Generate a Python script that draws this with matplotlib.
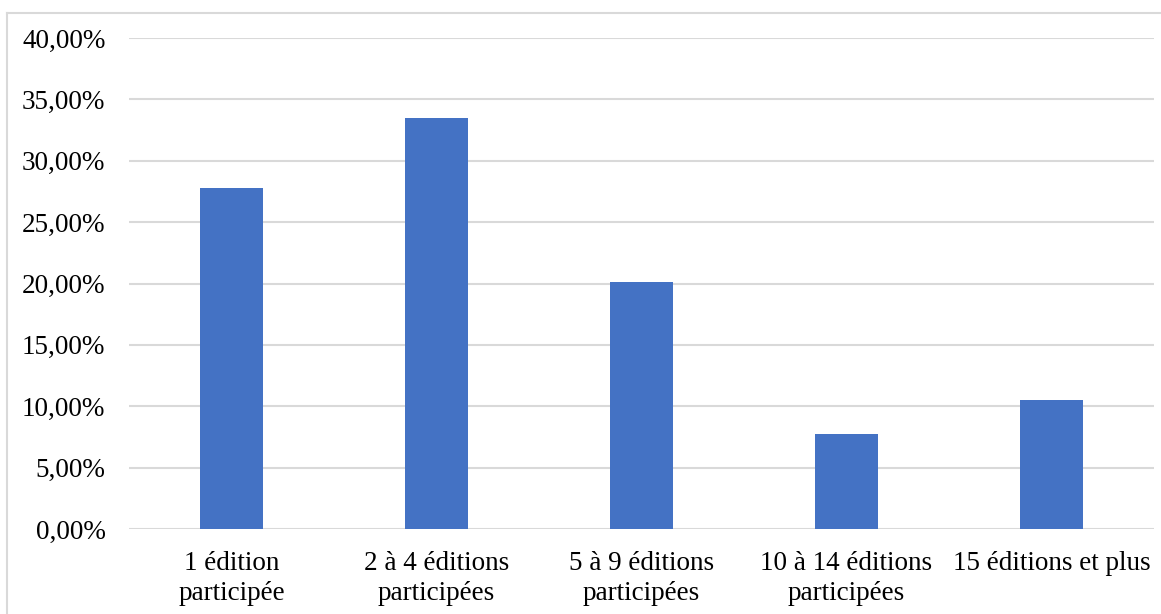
import matplotlib
matplotlib.use("Agg")
import matplotlib.pyplot as plt
from matplotlib.lines import Line2D

categories = ["1 édition\nparticipée", "2 à 4 éditions\nparticipées", "5 à 9 éditions\nparticipées",
              "10 à 14 éditions\nparticipées", "15 éditions et plus"]
values = [27.8, 33.5, 20.1, 7.75, 10.5]
yticks = [0, 5, 10, 15, 20, 25, 30, 35, 40]
ytick_labels = ["0,00%", "5,00%", "10,00%", "15,00%", "20,00%", "25,00%", "30,00%", "35,00%", "40,00%"]

plt.rcParams['font.family'] = ['Liberation Serif', 'DejaVu Serif']

W, H = 1161, 614
fig = plt.figure(figsize=(W/100, H/100), dpi=100)
ax = fig.add_axes([129/W, 1-529/H, (1154-129)/W, (529-38)/H])

x = list(range(len(categories)))
ax.bar(x, values, width=0.31, color="#4472C4", zorder=3)
ax.set_xlim(-0.5, len(categories)-0.5)
ax.set_ylim(0, 40)
ax.set_yticks(yticks)
ax.set_yticklabels(ytick_labels, fontsize=19.5)
ax.set_xticks(x)
ax.set_xticklabels(categories, fontsize=19.5, linespacing=1.27)
ax.tick_params(axis='both', length=0, colors='black')
ax.tick_params(axis='y', pad=17)
ax.tick_params(axis='x', pad=16)
ax.grid(axis='y', color='#D9D9D9', linewidth=1.5, zorder=0)
for s in ax.spines.values():
    s.set_visible(False)

# figure border (top and left visible)
fig.add_artist(Line2D([7/W, 1], [1-13/H, 1-13/H], transform=fig.transFigure, color='#D9D9D9', linewidth=1.5))
fig.add_artist(Line2D([7/W, 7/W], [0, 1-13/H], transform=fig.transFigure, color='#D9D9D9', linewidth=1.5))

fig.savefig("out.png", dpi=100)
